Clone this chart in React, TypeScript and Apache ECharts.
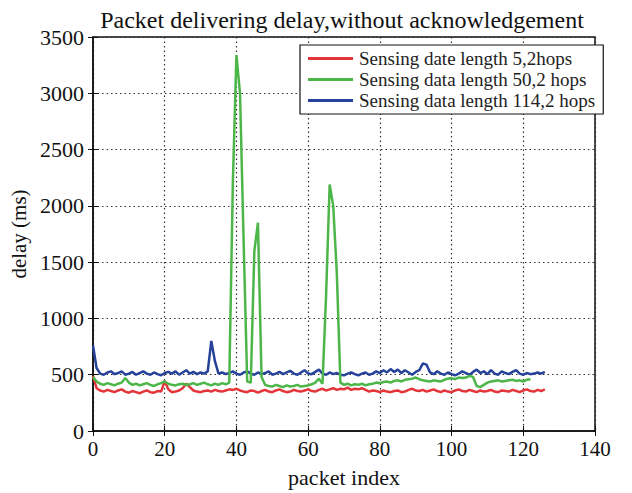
import React, { useEffect, useRef } from "react";
import * as echarts from "echarts";

const xTicks = [0, 20, 40, 60, 80, 100, 120, 140];
const yTicks = [0, 500, 1000, 1500, 2000, 2500, 3000, 3500];

const seriesNames = [
  "Sensing date length 5,2hops",
  "Sensing data length 50,2 hops",
  "Sensing data length 114,2 hops",
];

const redValues = [
  490, 380, 360, 350, 365, 355, 345, 360, 370, 350,
  340, 355, 345, 335, 350, 360, 345, 340, 355, 350,
  445, 370, 345, 350, 360, 380, 420, 390, 360, 350,
  345, 355, 360, 350, 365, 355, 350, 360, 370, 365,
  375, 360, 350, 345, 360, 355, 340, 355, 365, 350,
  345, 360, 370, 355, 345, 350, 365, 355, 350, 360,
  370, 355, 350, 365, 375, 360, 370, 380, 365, 375,
  370, 385, 365, 375, 370, 380, 365, 350, 360, 355,
  345, 360, 350, 345, 355, 360, 345, 350, 365, 375,
  360, 355, 365, 350, 360, 370, 355, 345, 360, 350,
  345, 360, 370, 355, 350, 365, 355, 345, 360, 350,
  355, 365, 350, 345, 360, 355, 350, 365, 355, 345,
  360, 370, 355, 350, 365, 355, 370,
];

const greenValues = [
  480, 440, 420, 410, 425, 415, 405, 420, 430, 470,
  430, 410, 420, 405, 415, 425, 410, 400, 415, 425,
  440, 420, 410, 405, 415, 420, 410, 415, 425, 410,
  420, 430, 415, 405, 420, 410, 425, 415, 430, 2200,
  3340, 3000, 1700, 440, 430, 1600, 1850, 480, 410, 400,
  395, 410, 400, 390, 405, 395, 400, 410, 395, 400,
  405, 415, 430, 465, 420, 1200, 2190, 2000, 1400, 430,
  410, 420, 405, 415, 410, 420, 405, 415, 420, 430,
  425, 435, 440, 430, 445, 450, 440, 455, 460, 465,
  475, 460, 450, 445, 440, 450, 445, 440, 455, 465,
  470, 460, 475, 470, 475, 490, 480, 400, 390, 410,
  430, 440, 445, 450, 440, 445, 450, 455, 445, 450,
  440, 455, 460,
];

const blueValues = [
  760, 560, 510, 500, 520, 530, 505, 515, 530, 500,
  510, 525, 500, 515, 530, 510, 500, 520, 505, 495,
  515, 525, 510, 530, 500, 520, 540, 510, 525, 505,
  520, 510, 530, 800, 620, 510, 520, 505, 515, 530,
  510, 500, 520, 530, 510, 500, 520, 505, 515, 530,
  500, 510, 525, 505, 520, 535, 510, 500, 520, 540,
  510, 505, 525, 545, 510, 500, 520, 505, 515, 500,
  495, 510, 520, 505, 495, 510, 520, 500, 510, 530,
  515, 540, 520, 550, 525, 545, 515, 540, 520, 500,
  525, 540, 600, 590, 520, 505, 530, 510, 500, 520,
  505, 495, 510, 530, 515, 500, 525, 545, 515, 530,
  505, 540, 510, 500, 530, 515, 505, 525, 540, 510,
  500, 515, 505, 510, 520, 510, 525,
];

const colors = ["#e4363a", "#4cb648", "#27429a"];
const FONT = "Liberation Serif";

export default function App() {
  const ref = useRef<HTMLDivElement>(null);
  useEffect(() => {
    if (!ref.current) return;
    const chart = echarts.init(ref.current, null, { renderer: "svg" });
    const toPairs = (arr: number[]) => arr.map((v, i) => [i, v]);
    const all = [redValues, greenValues, blueValues];
    const plain = (v: number) => String(v);
    chart.setOption({
      animation: false,
      backgroundColor: "#ffffff",
      textStyle: { fontFamily: FONT },
      title: {
        text: "Packet delivering delay,without acknowledgement",
        left: 337,
        top: 3,
        textAlign: "center",
        textStyle: { fontFamily: FONT, fontSize: 24, fontWeight: "normal", color: "#111" },
      },
      legend: {
        orient: "vertical",
        left: 300,
        top: 45,
        padding: [4, 8, 4, 8],
        itemGap: 2,
        itemWidth: 45,
        itemHeight: 3,
        icon: "rect",
        backgroundColor: "#ffffff",
        borderColor: "#111",
        borderWidth: 1.2,
        textStyle: { fontFamily: FONT, fontSize: 19, color: "#222", padding: [0, 0, 0, 1] },
        data: seriesNames,
      },
      grid: {
        left: 93,
        right: 37,
        top: 37,
        bottom: 57,
        show: true,
        borderColor: "#111",
        borderWidth: 1.5,
        backgroundColor: "#ffffff",
      },
      xAxis: [
        {
          type: "value",
          min: xTicks[0],
          max: xTicks[xTicks.length - 1],
          interval: 20,
          name: "packet index",
          nameLocation: "middle",
          nameGap: 35,
          nameTextStyle: { fontFamily: FONT, fontSize: 22, color: "#111" },
          axisLine: { show: true, lineStyle: { color: "#111", width: 1.5 } },
          axisTick: { show: true, inside: true, length: 5, lineStyle: { color: "#111" } },
          axisLabel: { fontFamily: FONT, fontSize: 21, color: "#111", margin: 7, formatter: plain },
          splitLine: { show: true, lineStyle: { color: "#333", type: [1.5, 3], width: 1.2 } },
        },
        {
          type: "value",
          position: "top",
          min: xTicks[0],
          max: xTicks[xTicks.length - 1],
          interval: 20,
          axisLine: { show: false },
          axisTick: { show: true, inside: true, length: 5, lineStyle: { color: "#111" } },
          axisLabel: { show: false },
          splitLine: { show: false },
        },
      ],
      yAxis: [
        {
          type: "value",
          min: yTicks[0],
          max: yTicks[yTicks.length - 1],
          interval: 500,
          name: "delay (ms)",
          nameLocation: "middle",
          nameGap: 62,
          nameRotate: 90,
          nameTextStyle: { fontFamily: FONT, fontSize: 21, color: "#111" },
          axisLine: { show: true, lineStyle: { color: "#111", width: 1.5 } },
          axisTick: { show: true, inside: true, length: 5, lineStyle: { color: "#111" } },
          axisLabel: { fontFamily: FONT, fontSize: 22, color: "#111", margin: 9, formatter: plain },
          splitLine: { show: true, lineStyle: { color: "#333", type: [1.5, 3], width: 1.2 } },
        },
        {
          type: "value",
          position: "right",
          min: yTicks[0],
          max: yTicks[yTicks.length - 1],
          interval: 500,
          axisLine: { show: false },
          axisTick: { show: true, inside: true, length: 5, lineStyle: { color: "#111" } },
          axisLabel: { show: false },
          splitLine: { show: false },
        },
      ],
      series: seriesNames.map((name, k) => ({
        name,
        type: "line",
        data: toPairs(all[k]),
        showSymbol: false,
        symbol: "none",
        lineStyle: { color: colors[k], width: 2.5 },
        itemStyle: { color: colors[k] },
        z: k === 1 ? 3 : 2,
      })),
    });
    return () => chart.dispose();
  }, []);
  return (
    <div
      ref={ref}
      style={{ position: "fixed", left: 0, top: 0, width: 632, height: 493 }}
    />
  );
}
